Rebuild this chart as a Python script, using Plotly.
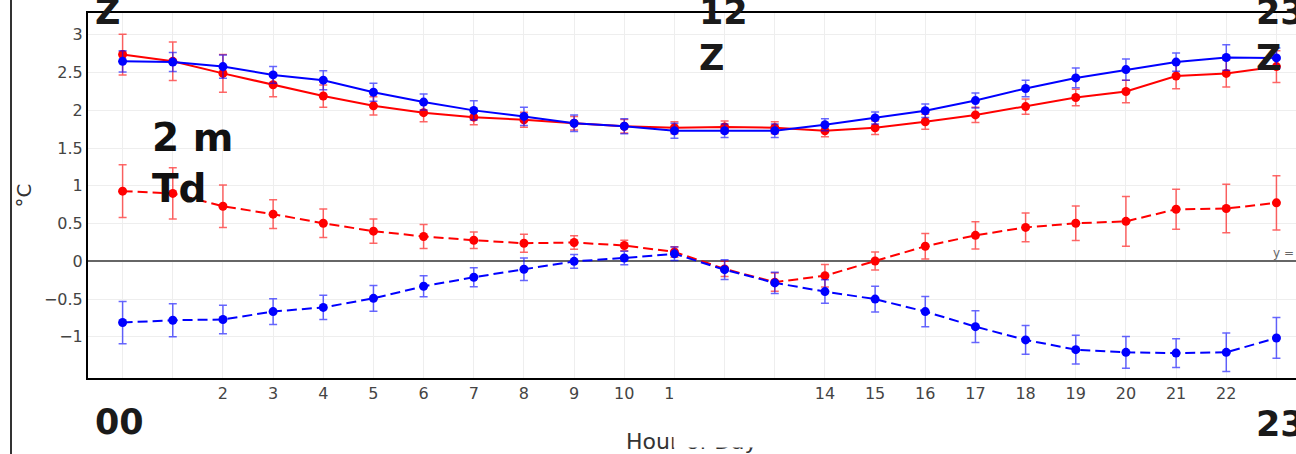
import plotly.graph_objects as go

hours = list(range(24))
tick_labels = ["", "", "2", "3", "4", "5", "6", "7", "8", "9", "10", "11",
               "", "", "14", "15", "16", "17", "18", "19", "20", "21", "22", ""]

red_solid = [2.74, 2.65, 2.49, 2.34, 2.19, 2.06, 1.97, 1.91, 1.875, 1.83, 1.79, 1.77,
             1.78, 1.77, 1.73, 1.77, 1.85, 1.94, 2.05, 2.17, 2.25, 2.455, 2.49, 2.58]
red_solid_err = [0.27, 0.255, 0.25, 0.16, 0.147, 0.12, 0.12, 0.10, 0.10, 0.09, 0.09, 0.08,
                 0.08, 0.08, 0.08, 0.09, 0.10, 0.10, 0.10, 0.11, 0.15, 0.17, 0.18, 0.21]

blue_solid = [2.65, 2.64, 2.58, 2.47, 2.40, 2.24, 2.11, 2.00, 1.92, 1.83, 1.79, 1.73,
              1.73, 1.73, 1.81, 1.90, 1.995, 2.13, 2.29, 2.43, 2.54, 2.64, 2.70, 2.695]
blue_solid_err = [0.14, 0.126, 0.155, 0.11, 0.126, 0.12, 0.106, 0.126, 0.12, 0.11, 0.10, 0.10,
                  0.09, 0.09, 0.08, 0.08, 0.09, 0.10, 0.11, 0.13, 0.14, 0.12, 0.17, 0.13]

red_dashed = [0.93, 0.90, 0.73, 0.625, 0.505, 0.40, 0.33, 0.28, 0.24, 0.25, 0.21, 0.125,
              -0.10, -0.275, -0.19, 0.005, 0.20, 0.345, 0.45, 0.505, 0.53, 0.69, 0.70, 0.775]
red_dashed_err = [0.35, 0.34, 0.28, 0.19, 0.19, 0.16, 0.16, 0.11, 0.12, 0.09, 0.07, 0.07,
                  0.10, 0.12, 0.15, 0.12, 0.17, 0.18, 0.19, 0.23, 0.33, 0.265, 0.32, 0.36]

blue_dashed = [-0.81, -0.78, -0.77, -0.665, -0.61, -0.49, -0.33, -0.21, -0.105, 0.0, 0.045, 0.10,
               -0.11, -0.285, -0.40, -0.50, -0.665, -0.865, -1.04, -1.17, -1.205, -1.215, -1.205, -1.015]
blue_dashed_err = [0.28, 0.22, 0.19, 0.17, 0.16, 0.17, 0.14, 0.125, 0.15, 0.09, 0.09, 0.09,
                   0.13, 0.14, 0.155, 0.17, 0.20, 0.21, 0.19, 0.19, 0.21, 0.19, 0.255, 0.27]

RED = "#ff0000"
BLUE = "#0000ff"

W, H = 1296, 454
PL, PT, PW, PH = 88, 13, 1208, 365


def px(x):
    return (x - PL) / PW


def py(y):
    return (PT + PH - y) / PH


def trace(y, err, color, err_color, dash):
    return go.Scatter(
        x=hours, y=y, mode="lines+markers",
        line=dict(color=color, width=2, dash=dash),
        marker=dict(color=color, size=9),
        error_y=dict(type="data", array=err, visible=True, color=err_color,
                     thickness=1.5, width=4),
        showlegend=False,
    )


fig = go.Figure()
fig.add_trace(trace(red_solid, red_solid_err, RED, "rgba(255,0,0,0.6)", "solid"))
fig.add_trace(trace(blue_solid, blue_solid_err, BLUE, "rgba(0,0,255,0.6)", "solid"))
fig.add_trace(trace(red_dashed, red_dashed_err, RED, "rgba(255,0,0,0.6)", "10px,5px"))
fig.add_trace(trace(blue_dashed, blue_dashed_err, BLUE, "rgba(0,0,255,0.6)", "10px,5px"))

tick_font = dict(family="DejaVu Sans", size=16, color="#444")
BIGFAM = "DejaVu Sans"
big = dict(family=BIGFAM, size=35, color="#1a1a1a")

annotations = [
    dict(text="<b>Z</b>", x=px(93), y=py(-10), font=big),
    dict(text="<b>12<br>Z</b>", x=px(697), y=py(-10), font=big),
    dict(text="<b>23<br>Z</b>", x=px(1254), y=py(-10), font=big),
    dict(text="<b>2 m<br>Td</b>", x=px(150), y=py(113),
         font=dict(family=BIGFAM, size=39, color="#111")),
    dict(text="<b>00</b>", x=px(93), y=py(400), font=big),
    dict(text="<b>23</b>", x=px(1254), y=py(402), font=big),
    dict(text="Hour of Day", x=0.5, y=py(426.6), xanchor="center",
         font=dict(family="DejaVu Sans", size=22, color="#333")),
    dict(text=" ", x=px(673), y=py(381), width=116, height=65, bgcolor="white",
         borderpad=0),
    dict(text="°C", x=px(23), y=0.5, xanchor="center", yanchor="middle",
         textangle=-90, font=dict(family="DejaVu Sans", size=20, color="#333")),
    dict(text="y = 0", x=px(1272), y=0, yref="y", yanchor="bottom", borderpad=0,
         font=dict(family="DejaVu Sans", size=12, color="#666")),
]
ann_list = []
for a in annotations:
    d = dict(xref="paper", yref="paper", showarrow=False, xanchor="left",
             yanchor="top", align="left")
    d.update(a)
    ann_list.append(d)

fig.update_layout(
    width=W, height=H,
    margin=dict(l=PL, r=W - PL - PW, t=PT, b=H - PT - PH, autoexpand=False),
    paper_bgcolor="white", plot_bgcolor="white",
    annotations=ann_list,
    shapes=[dict(type="line", xref="paper", yref="paper",
                 x0=px(11), x1=px(11), y0=py(0), y1=py(454),
                 line=dict(color="#333", width=2))],
)
fig.update_xaxes(
    range=[-0.69, 23.39], tickmode="array", tickvals=hours, ticktext=tick_labels,
    showgrid=True, gridcolor="#eeeeee", gridwidth=1, zeroline=False,
    showline=True, linecolor="black", linewidth=2, mirror=True,
    ticks="", tickfont=tick_font, automargin=False,
)
fig.update_yaxes(
    range=[-1.545, 3.29], tickmode="array", tickvals=[-1, -0.5, 0, 0.5, 1, 1.5, 2, 2.5, 3],
    showgrid=True, gridcolor="#eeeeee", gridwidth=1,
    zeroline=True, zerolinecolor="#666", zerolinewidth=2,
    showline=True, linecolor="black", linewidth=2, mirror=False,
    ticks="", tickfont=tick_font, automargin=False,
)

fig.write_html("out.html")
